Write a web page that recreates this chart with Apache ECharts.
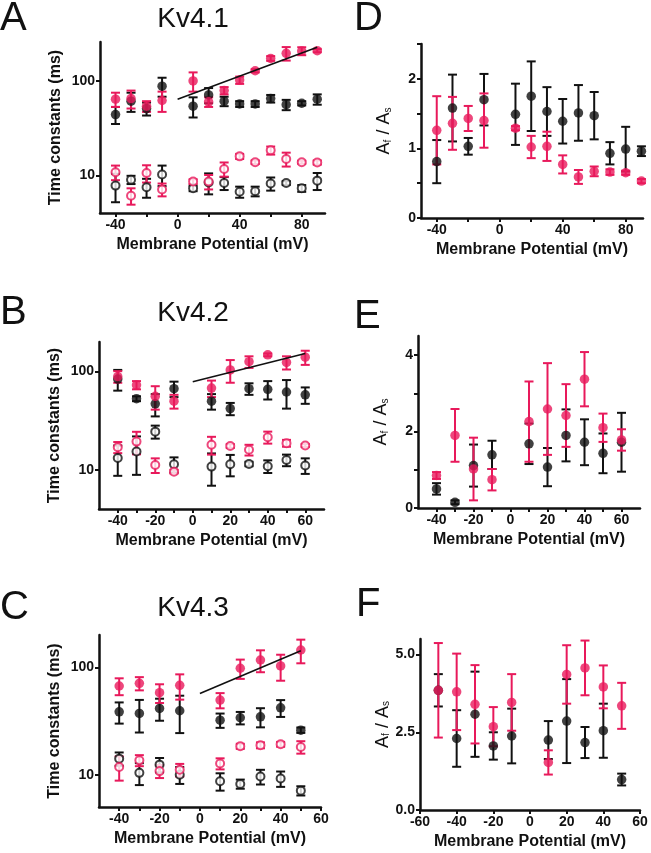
<!DOCTYPE html>
<html>
<head>
<meta charset="utf-8">
<script src="https://cdn.jsdelivr.net/npm/echarts@6/dist/echarts.min.js"></script>
<style>
  html, body { margin: 0; padding: 0; background: #fff; }
  #main { width: 651px; height: 853px; }
</style>
</head>
<body>
<div id="main"></div>
<script>
var chart = echarts.init(document.getElementById('main'));

var RED = '#e8195b';
var INK = '#111';

// ---- Panel A: Kv4.1 time constants ----
var vA = [-40, -30, -20, -10, 10, 20, 30, 40, 50, 60, 70, 80, 90];
var aSlowBlk = [44, 61, 51, 88, 54, 71, 61, 57, 57, 65, 56, 58, 64];
var aSlowBlkErr = [9, 14, 8, 20, 13, 13, 7, 4, 4, 6, 7, 3, 8];
var aSlowRed = [64, 65, 54, 62, 100, 60, 79, 102, 128, 173, 196, 207, 209];
var aSlowRedErr = [11, 14, 7, 15, 23, 7, 7, 9, 5, 10, 32, 20, 8];
var aFastBlk = [7.8, 9.0, 7.5, 10.2, 7.3, 8.4, 8.3, 6.7, 6.8, 8.2, 8.3, 7.3, 8.8];
var aFastBlkErr = [2.6, 0.9, 1.7, 2.5, 0.5, 2.1, 1.3, 0.9, 0.8, 1.3, 0.4, 0.6, 1.8];
var aFastRed = [10.8, 6.1, 10.6, 7.1, 8.6, 8.6, 11.7, 15.9, 13.8, 18.4, 14.9, 13.8, 13.7];
var aFastRedErr = [1.9, 1.2, 2.2, 1.1, 0.5, 1.5, 2.0, 1.0, 0.6, 1.8, 2.5, 0.5, 0.7];
var aFitX = [0, 90];
var aFitY = [64, 227];

// ---- Panel D: Kv4.1 amplitude ratio ----
var vD = [-40, -30, -20, -10, 10, 20, 30, 40, 50, 60, 70, 80, 90];
var dRatioBlk = [0.81, 1.58, 1.03, 1.70, 1.49, 1.75, 1.53, 1.39, 1.51, 1.47, 0.93, 0.99, 0.96];
var dRatioBlkErr = [0.31, 0.48, 0.12, 0.37, 0.44, 0.50, 0.35, 0.32, 0.40, 0.34, 0.16, 0.32, 0.07];
var dRatioRed = [1.26, 1.36, 1.43, 1.40, 1.29, 1.02, 1.03, 0.77, 0.59, 0.67, 0.66, 0.65, 0.53];
var dRatioRedErr = [0.49, 0.38, 0.18, 0.39, 0.03, 0.16, 0.21, 0.13, 0.10, 0.07, 0.04, 0.03, 0.03];

// ---- Panel B: Kv4.2 time constants ----
var vB = [-40, -30, -20, -10, 10, 20, 30, 40, 50, 60];
var bSlowBlk = [84, 53, 47, 67, 50, 42, 67, 66, 62, 58];
var bSlowBlkErr = [20, 3, 12, 12, 9, 6, 9, 14, 20, 11];
var bSlowRed = [89, 73, 56, 50, 68, 104, 126, 148, 124, 140];
var bSlowRedErr = [12, 7, 15, 8, 13, 27, 17, 5, 19, 23];
var bFastBlk = [13.2, 15.4, 24.5, 11.4, 10.8, 11.4, 11.5, 10.9, 12.6, 11.1];
var bFastBlkErr = [4.5, 6.5, 3.7, 2.0, 3.9, 2.8, 0.6, 1.6, 1.7, 2.0];
var bFastRed = [17, 19.4, 11.2, 9.6, 18, 17.5, 16, 21.5, 18.7, 17.7];
var bFastRedErr = [2.2, 5, 1.9, 0.4, 3.7, 0.8, 2, 3, 1.5, 0.6];
var bFitX = [0, 60];
var bFitY = [79, 153];

// ---- Panel E: Kv4.2 amplitude ratio ----
var vE = [-40, -30, -20, -10, 10, 20, 30, 40, 50, 60];
var eRatioBlk = [0.50, 0.15, 1.11, 1.39, 1.68, 1.07, 1.90, 1.72, 1.43, 1.72];
var eRatioBlkErr = [0.15, 0.05, 0.55, 0.37, 0.53, 0.50, 0.68, 0.60, 0.52, 0.77];
var eRatioRed = [0.85, 1.90, 1.02, 0.74, 2.26, 2.59, 2.42, 3.37, 2.10, 1.78];
var eRatioRedErr = [0.09, 0.69, 0.82, 0.28, 1.05, 1.20, 0.82, 0.71, 0.37, 0.28];

// ---- Panel C: Kv4.3 time constants ----
var vC = [-40, -30, -20, -10, 10, 20, 30, 40, 50];
var cSlowBlk = [38.5, 37.2, 41.4, 39.4, 32.2, 33.9, 34.6, 42, 26];
var cSlowBlkErr = [8.6, 12.5, 9.6, 15, 4.9, 4.5, 7, 7.5, 1.5];
var cSlowRed = [67, 71, 58, 68, 49.5, 98, 117, 103, 145];
var cSlowRedErr = [12, 10, 11.5, 18, 8, 20, 27, 28, 36];
var cFastBlk = [14.1, 10.4, 12.4, 10, 8.7, 8.2, 9.6, 9.2, 7.1];
var cFastBlkErr = [2, 2.4, 1.9, 1.8, 1.6, 0.8, 1.5, 1.5, 0.7];
var cFastRed = [11.8, 13.6, 10.8, 11.1, 12.7, 18.4, 18.8, 19.2, 18.1];
var cFastRedErr = [3, 1.6, 1.5, 1.5, 1.5, 1, 1.2, 1, 2.4];
var cFitX = [0, 50];
var cFitY = [57, 143];

// ---- Panel F: Kv4.3 amplitude ratio ----
var vF = [-50, -40, -30, -20, -10, 10, 20, 30, 40, 50];
var fRatioBlk = [3.85, 2.30, 3.08, 2.06, 2.38, 2.25, 2.86, 2.17, 2.55, 0.98];
var fRatioBlkErr = [0.52, 0.91, 1.37, 0.44, 0.88, 0.61, 1.35, 0.50, 0.87, 0.19];
var fRatioRed = [3.85, 3.80, 3.40, 2.68, 3.46, 1.53, 4.36, 4.57, 3.96, 3.35];
var fRatioRedErr = [1.52, 1.23, 1.26, 0.63, 0.91, 0.39, 0.94, 0.88, 0.69, 0.74];

// tick labels / tick positions
var xLabA = [-40, 0, 40, 80];
var xTickA = [-40, -20, 0, 20, 40, 60, 80];
var xLabB = [-40, -20, 0, 20, 40, 60];
var xTickB = [-40, -30, -20, -10, 0, 10, 20, 30, 40, 50, 60];
var xLabF = [-60, -40, -20, 0, 20, 40, 60];
var yLabD = [0, 1, 2];
var yTickD = [0, 0.5, 1, 1.5, 2, 2.5];
var yLabE = [0, 2, 4];
var yTickE = [0, 1, 2, 3, 4];
var yLabF = [0, 2.5, 5];

var grids = [], xAxes = [], yAxes = [], series = [];
var LABEL_MARGIN = 5;

function errRows(xs, ys, es) {
  return xs.map(function (x, i) { return [x, ys[i], ys[i] - es[i], ys[i] + es[i]]; });
}

function renderErr(params, api) {
  var x = api.value(0);
  var lo = api.coord([x, api.value(2)]);
  var hi = api.coord([x, api.value(3)]);
  var w = 4.5;
  var st = { stroke: api.visual('color'), lineWidth: 2 };
  return {
    type: 'group',
    children: [
      { type: 'line', shape: { x1: lo[0], y1: lo[1], x2: hi[0], y2: hi[1] }, style: st },
      { type: 'line', shape: { x1: lo[0] - w, y1: lo[1], x2: lo[0] + w, y2: lo[1] }, style: st },
      { type: 'line', shape: { x1: hi[0] - w, y1: hi[1], x2: hi[0] + w, y2: hi[1] }, style: st }
    ]
  };
}

var FONT = 'Liberation Sans, Arial, sans-serif';
var axisLineStyle = { color: INK, width: 2.5 };
var tickLabelStyle = { fontFamily: FONT, fontWeight: 'bold', fontSize: 14, color: INK };
var nameStyle = { fontFamily: FONT, fontWeight: 'bold', fontSize: 16, color: INK };

function addGrid(box, xr, xLab, xTick, yAxis) {
  var gi = grids.length;
  grids.push({ left: box[0], top: box[1], width: box[2], height: box[3], outerBoundsMode: 'none' });
  xAxes.push({
    type: 'value', gridIndex: gi, min: xr[0], max: xr[1],
    name: 'Membrane Potential (mV)', nameLocation: 'middle', nameGap: 24,
    nameTextStyle: nameStyle,
    axisLine: { onZero: false, lineStyle: axisLineStyle },
    axisTick: { customValues: xTick, length: 4, lineStyle: { color: INK, width: 2 } },
    axisLabel: Object.assign({ customValues: xLab, margin: LABEL_MARGIN }, tickLabelStyle),
    splitLine: { show: false }
  });
  yAxis.gridIndex = gi;
  yAxes.push(yAxis);
  return gi;
}

function logY(min, max) {
  return {
    type: 'log', min: min, max: max,
    name: 'Time constants (ms)', nameLocation: 'middle', nameGap: 36,
    nameTextStyle: nameStyle,
    axisLine: { onZero: false, lineStyle: axisLineStyle },
    axisTick: { length: 4, lineStyle: { color: INK, width: 2 } },
    axisLabel: Object.assign({ margin: 5, showMinLabel: false, showMaxLabel: false }, tickLabelStyle),
    splitLine: { show: false }
  };
}

function ratioY(max, lab, tick, fmt) {
  return {
    type: 'value', min: 0, max: max,
    name: 'A{sub|f} / A{sub|s}', nameLocation: 'middle', nameGap: 28,
    nameTextStyle: {
      fontFamily: FONT, color: INK, fontWeight: 'normal', fontSize: 18,
      rich: { sub: { fontFamily: FONT, fontSize: 10, color: INK, verticalAlign: 'bottom', padding: [8, 0, 0, 0] } }
    },
    axisLine: { onZero: false, lineStyle: axisLineStyle },
    axisTick: { customValues: tick, length: 4, lineStyle: { color: INK, width: 2 } },
    axisLabel: Object.assign({ customValues: lab, margin: 5, formatter: fmt }, tickLabelStyle),
    splitLine: { show: false }
  };
}

function errSeries(gi, xs, ys, es, color) {
  series.push({
    type: 'custom', xAxisIndex: gi, yAxisIndex: gi,
    renderItem: renderErr, itemStyle: { color: color },
    encode: { x: 0, y: [1, 2, 3] },
    data: errRows(xs, ys, es), z: 2, silent: true
  });
}

function dotSeries(gi, xs, ys, color, open) {
  series.push({
    type: 'scatter', xAxisIndex: gi, yAxisIndex: gi,
    symbol: 'circle', symbolSize: open ? 8 : 9.5,
    itemStyle: open ? { color: '#fff', borderColor: color, borderWidth: 2 } : { color: color },
    data: xs.map(function (x, i) { return [x, ys[i]]; }), z: 3, silent: true
  });
}

function fitSeries(gi, fx, fy) {
  series.push({
    type: 'line', xAxisIndex: gi, yAxisIndex: gi, symbol: 'none',
    lineStyle: { color: INK, width: 1.6 },
    data: fx.map(function (x, i) { return [x, fy[i]]; }), z: 4, silent: true
  });
}

function tauPanel(box, xr, xLab, xTick, yr, xs, sb, sbe, sr, sre, fb, fbe, fr, fre, fx, fy) {
  var gi = addGrid(box, xr, xLab, xTick, logY(yr[0], yr[1]));
  errSeries(gi, xs, fb, fbe, INK);
  errSeries(gi, xs, fr, fre, RED);
  errSeries(gi, xs, sb, sbe, INK);
  errSeries(gi, xs, sr, sre, RED);
  dotSeries(gi, xs, fb, INK, true);
  dotSeries(gi, xs, fr, RED, true);
  dotSeries(gi, xs, sb, INK, false);
  dotSeries(gi, xs, sr, RED, false);
  fitSeries(gi, fx, fy);
}

function ratioPanel(box, xr, xLab, xTick, yAxis, xs, rb, rbe, rr, rre) {
  var gi = addGrid(box, xr, xLab, xTick, yAxis);
  errSeries(gi, xs, rb, rbe, INK);
  errSeries(gi, xs, rr, rre, RED);
  dotSeries(gi, xs, rb, INK, false);
  dotSeries(gi, xs, rr, RED, false);
}

tauPanel([100, 42, 225, 171], [-50, 95], xLabA, xTickA, [4, 258], vA,
  aSlowBlk, aSlowBlkErr, aSlowRed, aSlowRedErr, aFastBlk, aFastBlkErr, aFastRed, aFastRedErr, aFitX, aFitY);
tauPanel([99, 342, 225, 167], [-50, 70], xLabB, xTickB, [4, 200], vB,
  bSlowBlk, bSlowBlkErr, bSlowRed, bSlowRedErr, bFastBlk, bFastBlkErr, bFastRed, bFastRedErr, bFitX, bFitY);
tauPanel([99, 635, 222, 172], [-50, 60], xLabB, xTickB, [5, 200], vC,
  cSlowBlk, cSlowBlkErr, cSlowRed, cSlowRedErr, cFastBlk, cFastBlkErr, cFastRed, cFastRedErr, cFitX, cFitY);

ratioPanel([421, 44, 222, 174], [-50, 91], xLabA, xTickA,
  ratioY(2.5, yLabD, yTickD, function (v) { return String(v); }), vD,
  dRatioBlk, dRatioBlkErr, dRatioRed, dRatioRedErr);
ratioPanel([418, 336, 222, 172], [-50, 70], xLabB, xTickB,
  ratioY(4.5, yLabE, yTickE, function (v) { return String(v); }), vE,
  eRatioBlk, eRatioBlkErr, eRatioRed, eRatioRedErr);
ratioPanel([420, 639, 220, 171], [-60, 60], xLabF, xLabF,
  ratioY(5.5, yLabF, yLabF, function (v) { return v.toFixed(1); }), vF,
  fRatioBlk, fRatioBlkErr, fRatioRed, fRatioRedErr);

function txt(x, y, s, size, align) {
  return {
    type: 'text', x: x, y: y,
    style: { text: s, fontFamily: FONT, fontSize: size, fill: INK, textAlign: align || 'left', textVerticalAlign: 'middle' }
  };
}

var graphics = [
  txt(0, 19, 'A', 40), txt(193, 19, 'Kv4.1', 28, 'center'),
  txt(0, 313, 'B', 40), txt(193, 313, 'Kv4.2', 28, 'center'),
  txt(0, 608, 'C', 40), txt(193, 608, 'Kv4.3', 28, 'center'),
  txt(354, 19, 'D', 40), txt(354, 317, 'E', 40), txt(356, 605, 'F', 40)
];

chart.setOption({
  animation: false,
  backgroundColor: '#fff',
  grid: grids,
  xAxis: xAxes,
  yAxis: yAxes,
  series: series,
  graphic: graphics
});

// keep every x axis on the bottom edge of its grid
function snapXAxes() {
  var model = chart.getModel();
  var moved = false;
  xAxes.forEach(function (ax, i) {
    var rect = model.getComponent('grid', i).coordinateSystem.getRect();
    var bottom = rect.y + rect.height;
    var view = chart.getViewOfComponentModel(model.getComponent('xAxis', i));
    if (!view || !view.group) return;
    var want = ax.axisLabel.customValues.map(String);
    var top = null;
    view.group.traverse(function (el) {
      if (top !== null || el.type !== 'text' || !el.style) return;
      if (want.indexOf(String(el.style.text)) < 0) return;
      var br = el.getBoundingRect().clone();
      br.applyTransform(el.getComputedTransform());
      top = br.y;
    });
    if (top === null) return;
    var shift = bottom + LABEL_MARGIN - top;
    if (Math.abs(shift) > 3) {
      ax.offset = (ax.offset || 0) + shift;
      moved = true;
    }
  });
  if (moved) chart.setOption({ xAxis: xAxes });
}
try { snapXAxes(); } catch (e) {}
</script>
</body>
</html>
